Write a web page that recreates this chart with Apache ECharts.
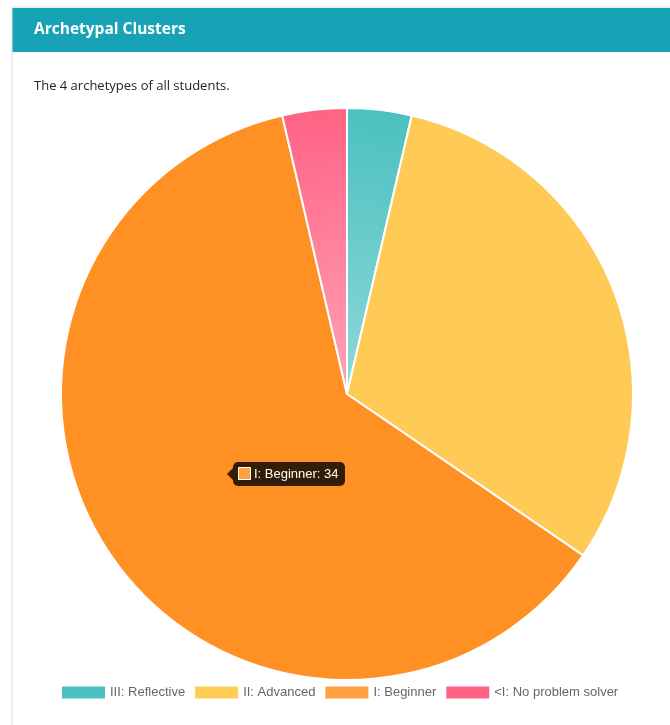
<!DOCTYPE html>
<html>
<head>
<meta charset="utf-8">
<script src="https://cdn.jsdelivr.net/npm/echarts@6/dist/echarts.min.js"></script>
<style>
html,body{margin:0;padding:0;background:#fff;}
#chart{width:670px;height:725px;}
</style>
</head>
<body>
<div id="chart"></div>
<script>
var categories = ['III: Reflective', 'II: Advanced', 'I: Beginner', '<I: No problem solver'];
var counts = [2, 17, 34, 2];
var colors = ['#4bc0c0', '#ffcd56', '#ff9f40', '#ff6384'];
var titleText = 'Archetypal Clusters';
var subtitleText = 'The 4 archetypes of all students.';
var hoveredIndex = 2;

var cx = 347, cy = 394, R = 286;

function radial(c0, c1) {
  return {type:'radial', x:cx, y:cy, r:R, global:true,
    colorStops:[{offset:0, color:c0},{offset:1, color:c1}]};
}
var sliceColors = [
  radial('#8fd9d9', '#4bc0c0'),
  '#ffca55',
  '#ff9124',
  radial('#ffa2b6', '#ff6384')
];

var chart = echarts.init(document.getElementById('chart'), null, {renderer:'canvas'});

var pieData = categories.map(function(n, i){
  return {name:n, value:counts[i], itemStyle:{color:sliceColors[i]}};
});
var legendData = categories.map(function(n, i){
  return {name:n, itemStyle:{color:colors[i], borderColor:colors[i], borderWidth:0}};
});

var tipText = categories[hoveredIndex] + ': ' + counts[hoveredIndex];
var tx = 227, ty = 462;

chart.setOption({
  animation:false,
  backgroundColor:'#fff',
  title:[
    {text:titleText, left:34, top:22, padding:0, textStyle:{color:'#fff', fontFamily:'Open Sans', fontWeight:'bold', fontSize:15.5}},
    {text:subtitleText, left:34, top:80, padding:0, textStyle:{color:'#212529', fontFamily:'Open Sans', fontWeight:'normal', fontSize:13}}
  ],
  graphic:[
    {type:'rect', z:-10, shape:{x:12, y:7, width:670, height:730}, style:{fill:'#fff', stroke:'#dcdcdc', lineWidth:1}},
    {type:'rect', z:-5, shape:{x:12.5, y:8, width:670, height:44}, style:{fill:'#18a2b6'}},
    {type:'polygon', z:100, shape:{points:[[tx,ty+12],[tx+6,ty+6],[tx+6,ty+18]]}, style:{fill:'rgba(0,0,0,0.8)'}},
    {type:'rect', z:100, shape:{x:tx+6, y:ty, width:112, height:24, r:5}, style:{fill:'rgba(0,0,0,0.8)'}},
    {type:'rect', z:101, shape:{x:tx+11.5, y:ty+5.5, width:12, height:12}, style:{fill:colors[hoveredIndex], stroke:'#fff', lineWidth:1}},
    {type:'text', z:101, x:tx+27, y:ty+12, style:{text:tipText, fill:'#fff', font:'13px "Liberation Sans", Arial, sans-serif', verticalAlign:'middle'}}
  ],
  legend:{
    bottom:21, left:57,
    itemWidth:43, itemHeight:12, itemGap:10,
    icon:'rect',
    textStyle:{color:'#666', fontFamily:'Liberation Sans, Arial, sans-serif', fontSize:13},
    data:legendData,
    selectedMode:false
  },
  series:[{
    type:'pie',
    center:[cx, cy],
    radius:[0, R],
    startAngle:90,
    clockwise:true,
    label:{show:false},
    labelLine:{show:false},
    emphasis:{disabled:true},
    itemStyle:{borderColor:'#fff', borderWidth:2},
    data:pieData
  }]
});
</script>
</body>
</html>
